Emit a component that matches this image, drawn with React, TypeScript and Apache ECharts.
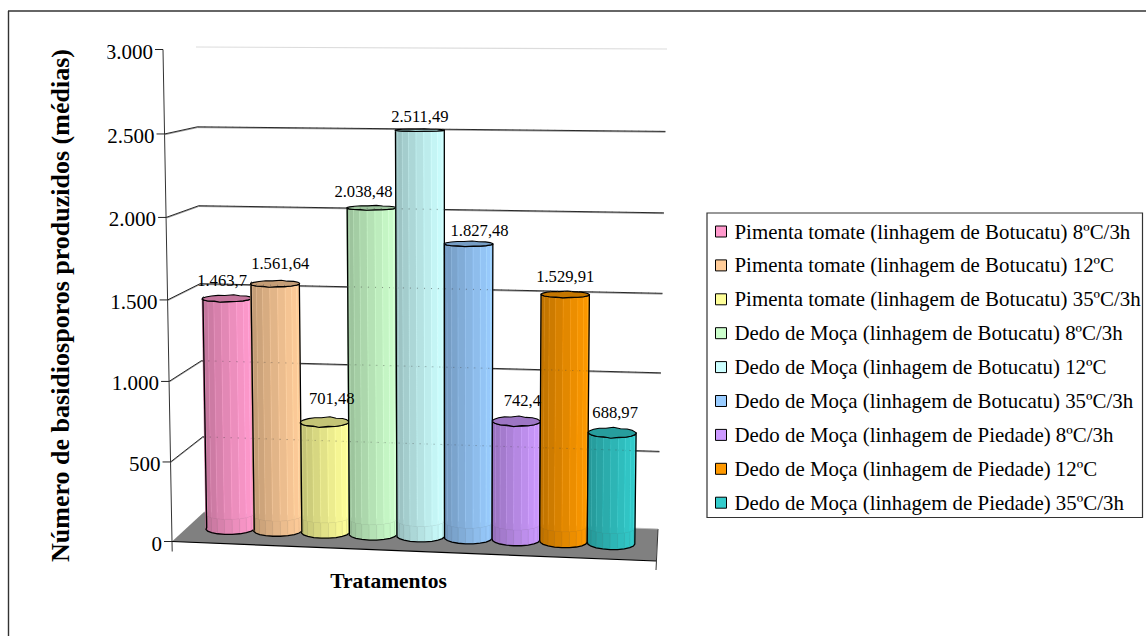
import React, { useEffect, useRef } from "react";
import * as echarts from "echarts";

const seriesNames = [
  "Pimenta tomate (linhagem de Botucatu) 8ºC/3h",
  "Pimenta tomate (linhagem de Botucatu) 12ºC",
  "Pimenta tomate (linhagem de Botucatu) 35ºC/3h",
  "Dedo de Moça (linhagem de Botucatu) 8ºC/3h",
  "Dedo de Moça (linhagem de Botucatu) 12ºC",
  "Dedo de Moça (linhagem de Botucatu) 35ºC/3h",
  "Dedo de Moça (linhagem de Piedade) 8ºC/3h",
  "Dedo de Moça (linhagem de Piedade) 12ºC",
  "Dedo de Moça (linhagem de Piedade) 35ºC/3h",
];
const seriesValues = [1463.7, 1561.64, 701.48, 2038.48, 2511.49, 1827.48, 742.4, 1529.91, 688.97];
const seriesLabels = ["1.463,7", "1.561,64", "701,48", "2.038,48", "2.511,49", "1.827,48", "742,4", "1.529,91", "688,97"];
const seriesColors = ["#FF99CC", "#FFCC99", "#FFFF99", "#CCFFCC", "#CCFFFF", "#99CCFF", "#CC99FF", "#FF9900", "#33CCCC"];
const labelShiftX = [-5, 5, 7, -8, 0, 11, 6, 0, 3];
const labelShiftY = [15, 17, 19, 14, 12, 11, 16, 14.5, 15];
const tickValues = [0, 500, 1000, 1500, 2000, 2500, 3000];
const tickLabels = ["0", "500", "1.000", "1.500", "2.000", "2.500", "3.000"];
const yTitle = "Número de basidiosporos produzidos (médias)";
const xTitle = "Tratamentos";

type P = [number, number];
const FONT = '"Liberation Serif", serif';

// Screen corners of the chart box's front and back planes.
const FRONT = { tl: [163, 49.5] as P, tr: [660, 48] as P, bl: [172, 541.5] as P, br: [656, 561] as P };
const BACK = { tl: [196, 47] as P, tr: [667, 49] as P, bl: [204, 512] as P, br: [658, 529] as P };
const GRID = { left: 172, top: 50, width: 484, height: 491 };
const U_MIN = 0.0399;
const U_MAX = 0.9527;

const mix = (a: P, b: P, k: number): P => [a[0] + (b[0] - a[0]) * k, a[1] + (b[1] - a[1]) * k];
const plane = (Q: typeof FRONT, u: number, t: number): P => mix(mix(Q.bl, Q.br, u), mix(Q.tl, Q.tr, u), t);
const project = (u: number, t: number, d: number): P => mix(plane(FRONT, u, t), plane(BACK, u, t), d);
const warp = (s: number) => 0.964 * s + 0.036 * s * s;
const toU = (px: number) => U_MIN + ((px - GRID.left) / GRID.width) * (U_MAX - U_MIN);
const toS = (py: number) => (GRID.top + GRID.height - py) / GRID.height;

const shade = (hex: string, k: number) => {
  const n = parseInt(hex.slice(1), 16);
  const c = [(n >> 16) & 255, (n >> 8) & 255, n & 255].map((x) => Math.min(255, Math.round(x * k)));
  return `rgb(${c[0]},${c[1]},${c[2]})`;
};

const N = 20;
const DEPTH_R = 0.2;

function barItem(index: number) {
  return (_p: any, api: any) => {
    const cat = api.value(0);
    const val = api.value(1);
    const top = api.coord([cat, val]);
    const base = api.coord([cat, 0]);
    const uc = toU(top[0]);
    const ur = toU(top[0] + api.size([1, 0])[0] / 2) - uc;
    const tTop = warp(toS(top[1]));
    const tBase = warp(toS(base[1]));
    const color = seriesColors[index];
    const front = (a: number, t: number, wob = 0): P =>
      project(uc + ur * Math.cos(a), t, 0.5 - DEPTH_R * (1 + wob) * Math.sin(a));
    // floor's back edge as seen in this bar's column
    const yBack = plane(BACK, uc, 0)[1];
    const yB = project(uc, 0, 0.5)[1];
    const yT = project(uc, 1, 0.5)[1];
    const tCut = (yB - yBack) / (yB - yT);

    const children: any[] = [];
    for (let i = 0; i < N / 2; i++) {
      const a0 = Math.PI - (i * 2 * Math.PI) / N;
      const a1 = Math.PI - ((i + 1) * 2 * Math.PI) / N;
      const p = (1 - Math.cos((a0 + a1) / 2)) / 2;
      const k = 1 - 0.27 * p;
      const fill = shade(color, k);
      children.push({
        type: "polygon",
        shape: { points: [front(a0, tTop), front(a1, tTop), front(a1, tCut), front(a0, tCut)] },
        style: { fill, stroke: i ? shade(color, k + 0.07) : fill, lineWidth: 0.5 },
      });
      children.push({
        type: "polygon",
        shape: { points: [front(a0, tCut), front(a1, tCut), front(a1, tBase), front(a0, tBase)] },
        style: { fill, stroke: i ? shade(color, k * 0.92) : fill, lineWidth: 0.5 },
      });
    }
    const outline: P[] = [];
    for (let i = 0; i <= N / 2; i++) outline.push(front(Math.PI - (i * 2 * Math.PI) / N, tBase));
    for (let i = N / 2; i >= 0; i--) outline.push(front(Math.PI - (i * 2 * Math.PI) / N, tTop));
    children.push({
      type: "polygon",
      shape: { points: outline },
      style: { fill: "none", stroke: "#000", lineWidth: 1.3 },
    });
    const cap: P[] = [];
    for (let i = 0; i < N; i++) {
      const a = (i * 2 * Math.PI) / N;
      cap.push(front(a, tTop, 0.12 * Math.cos(8 * a)));
    }
    children.push({
      type: "polygon",
      shape: { points: cap },
      style: { fill: shade(color, 0.77), stroke: "#000", lineWidth: 1.1 },
    });
    return { type: "group", children };
  };
}

function labelItem(_p: any, api: any) {
  const cat = api.value(0);
  const top = api.coord([cat, api.value(1)]);
  const uc = toU(top[0]);
  const tTop = warp(toS(top[1]));
  const capTop = project(uc, tTop, 0.5 + DEPTH_R);
  return {
    type: "text",
    style: {
      x: project(uc, tTop, 0.5)[0] + labelShiftX[cat],
      y: capTop[1] - labelShiftY[cat],
      text: seriesLabels[cat],
      font: `16.6px ${FONT}`,
      fill: "#000",
      align: "center",
      verticalAlign: "middle",
    },
  };
}

function wallItem(_p: any, api: any) {
  const val = api.value(0);
  const pos = api.coord([0, val]);
  const t = warp(toS(pos[1]));
  const a = project(0, t, 0);
  const b = project(0, t, 1);
  const c = project(1, t, 1);
  const d = project(1, t, 0);
  const isTop = val === tickValues[tickValues.length - 1];
  const isFloor = val === 0;
  const children: any[] = [];
  if (isFloor) {
    children.push({
      type: "polygon",
      shape: { points: [a, b, c, d] },
      style: { fill: "#808080", stroke: "none" },
    });
    children.push({ type: "line", shape: { x1: a[0], y1: a[1], x2: d[0], y2: d[1] }, style: { stroke: "#000", lineWidth: 1.2 } });
    children.push({ type: "line", shape: { x1: c[0], y1: c[1], x2: d[0], y2: d[1] + 9 }, style: { stroke: "#333", lineWidth: 1 } });
    children.push({ type: "line", shape: { x1: a[0], y1: a[1], x2: a[0] + 0.2, y2: a[1] + 10 }, style: { stroke: "#333", lineWidth: 1 } });
    children.push({ type: "line", shape: { x1: b[0], y1: b[1], x2: c[0], y2: c[1] }, style: { stroke: "#bbb", lineWidth: 0.8 } });
  } else if (isTop) {
    children.push({ type: "polyline", shape: { points: [b, c] }, style: { fill: "none", stroke: "#dcdcdc", lineWidth: 1.2 } });
  } else {
    children.push({ type: "polyline", shape: { points: [[a[0], a[1] + 0.8], [b[0], b[1] + 0.8], [c[0], c[1] + 0.8]] }, style: { fill: "none", stroke: "#999", lineWidth: 1 } });
    children.push({ type: "polyline", shape: { points: [a, b, c] }, style: { fill: "none", stroke: "#111", lineWidth: 0.9 } });
  }
  children.push({ type: "line", shape: { x1: a[0] - 8, y1: a[1], x2: a[0], y2: a[1] }, style: { stroke: "#222", lineWidth: 1 } });
  children.push({
    type: "text",
    style: {
      x: a[0] - 10,
      y: a[1] + 2,
      text: tickLabels[tickValues.indexOf(val)],
      font: `21px ${FONT}`,
      fill: "#000",
      align: "right",
      verticalAlign: "middle",
    },
  });
  return { type: "group", children };
}

function overlayItem(_p: any, api: any) {
  const val = api.value(0);
  const pos = api.coord([0, val]);
  const t = warp(toS(pos[1]));
  const b = project(0, t, 1);
  const c = project(1, t, 1);
  return {
    type: "line",
    shape: { x1: b[0], y1: b[1], x2: c[0], y2: c[1] },
    style: { stroke: "rgba(70,70,70,0.5)", lineWidth: 1, lineDash: [1, 6] },
  };
}

export default function App() {
  const ref = useRef<HTMLDivElement>(null);
  useEffect(() => {
    document.body.style.margin = "0";
    const chart = echarts.init(ref.current!, undefined, { renderer: "svg" });
    const axisTop = project(0, 1, 0);
    const axisBottom = project(0, 0, 0);
    chart.setOption({
      animation: false,
      backgroundColor: "#fff",
      textStyle: { fontFamily: FONT },
      grid: { ...GRID },
      xAxis: { type: "category", data: seriesNames, show: false },
      yAxis: { type: "value", min: 0, max: 3000, interval: 500, show: false },
      legend: {
        data: seriesNames,
        orient: "vertical",
        left: 715,
        top: 220,
        padding: 0,
        itemWidth: 11,
        itemHeight: 11,
        itemGap: 10.9,
        icon: "rect",
        align: "left",
        selectedMode: false,
        itemStyle: { borderColor: "#000", borderWidth: 1 },
        textStyle: { fontFamily: FONT, fontSize: 20.9, color: "#000", padding: [0, 0, 0, 3], lineHeight: 23 },
      },
      graphic: [
        { type: "line", shape: { x1: 8.5, y1: 11, x2: 8.5, y2: 636 }, style: { stroke: "#333", lineWidth: 1.4 } },
        { type: "line", shape: { x1: 8, y1: 11, x2: 1146, y2: 11 }, style: { stroke: "#333", lineWidth: 1.4 } },
        { type: "rect", shape: { x: 707, y: 213, width: 435.5, height: 304.5 }, style: { fill: "none", stroke: "#333", lineWidth: 1.2 } },
        { type: "line", shape: { x1: axisTop[0], y1: axisTop[1], x2: axisBottom[0], y2: axisBottom[1] }, style: { stroke: "#333", lineWidth: 1 } },
        { type: "rect", z: 100, shape: { x: 98, y: 38, width: 9.5, height: 26 }, style: { fill: "#fff" } },
        {
          type: "text",
          x: 60,
          y: 305.5,
          rotation: Math.PI / 2,
          style: { text: yTitle, font: `bold 26px ${FONT}`, fill: "#000", align: "center", verticalAlign: "middle" },
        },
        {
          type: "text",
          x: 388.5,
          y: 581,
          style: { text: xTitle, font: `bold 21.5px ${FONT}`, fill: "#000", align: "center", verticalAlign: "middle" },
        },
      ],
      series: [
        {
          type: "custom",
          name: "paredes",
          z: 1,
          coordinateSystem: "cartesian2d",
          renderItem: wallItem,
          encode: { y: 0 },
          data: tickValues.map((v) => [v]),
        },
        ...seriesNames.map((name, i) => ({
          type: "custom",
          name,
          z: 2 + i,
          coordinateSystem: "cartesian2d",
          renderItem: barItem(i),
          itemStyle: { color: seriesColors[i] },
          encode: { x: 0, y: 1 },
          data: [[i, seriesValues[i]]],
        })),
        {
          type: "custom",
          name: "grade",
          z: 20,
          coordinateSystem: "cartesian2d",
          renderItem: overlayItem,
          encode: { y: 0 },
          data: tickValues.slice(1, 6).map((v) => [v]),
        },
        {
          type: "custom",
          name: "rótulos",
          z: 21,
          coordinateSystem: "cartesian2d",
          renderItem: labelItem,
          encode: { x: 0, y: 1 },
          data: seriesValues.map((v, i) => [i, v]),
        },
      ],
    });
    return () => chart.dispose();
  }, []);
  return <div ref={ref} style={{ position: "absolute", left: 0, top: 0, width: 1146, height: 636 }} />;
}
